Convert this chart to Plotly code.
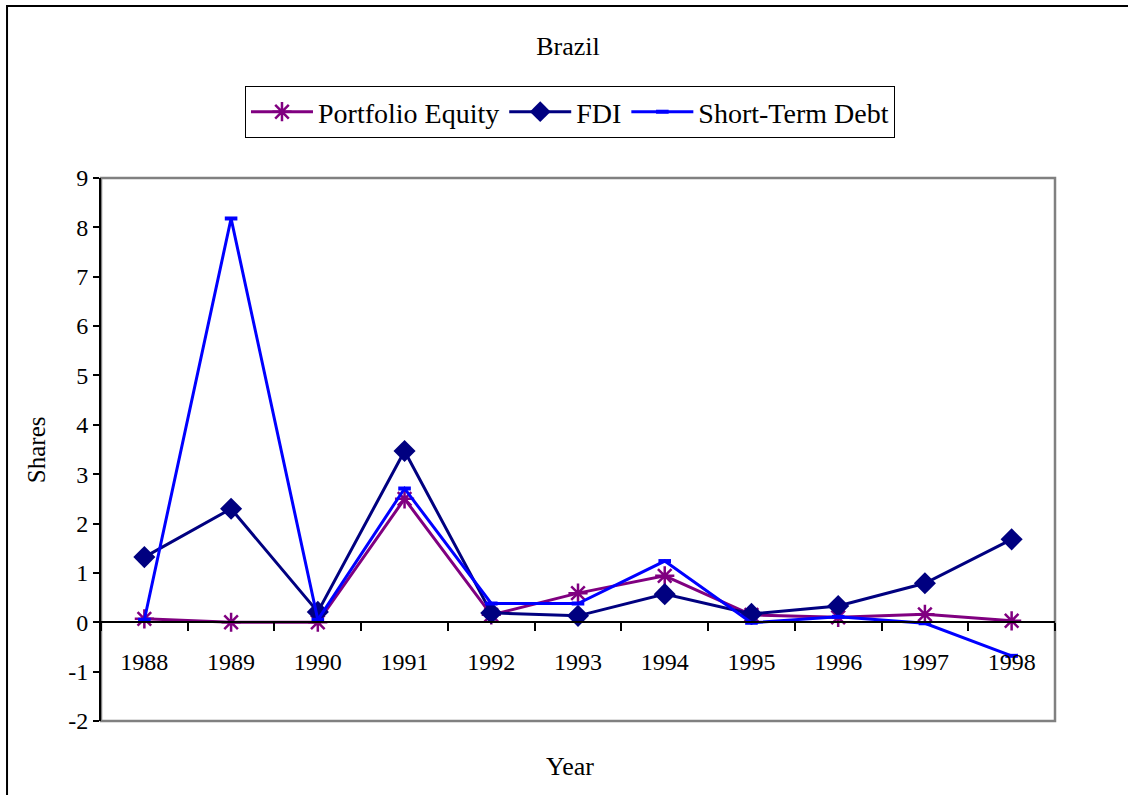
import plotly.graph_objects as go

years = ["1988", "1989", "1990", "1991", "1992", "1993", "1994", "1995", "1996", "1997", "1998"]
portfolio_equity = [0.07, 0.0, 0.0, 2.50, 0.15, 0.59, 0.94, 0.15, 0.10, 0.16, 0.03]
fdi = [1.32, 2.30, 0.21, 3.47, 0.19, 0.13, 0.57, 0.17, 0.33, 0.79, 1.68]
short_term_debt = [0.05, 8.18, 0.05, 2.71, 0.38, 0.38, 1.24, -0.01, 0.11, -0.02, -0.68]
y_tick_values = [-2, -1, 0, 1, 2, 3, 4, 5, 6, 7, 8, 9]
y_tick_labels = ["-2", "-1", "0", "1", "2", "3", "4", "5", "6", "7", "8", "9"]

FONT = "Liberation Serif, Times New Roman, serif"

fig = go.Figure()
fig.add_trace(go.Scatter(
    x=years, y=portfolio_equity, name="Portfolio Equity", mode="lines+markers",
    line=dict(color="#800080", width=3),
    marker=dict(symbol="asterisk-open", size=16, color="#800080", line=dict(color="#800080", width=2.5)),
))
fig.add_trace(go.Scatter(
    x=years, y=fdi, name="FDI", mode="lines+markers",
    line=dict(color="#000080", width=3),
    marker=dict(symbol="diamond", size=17, color="#000080"),
))
fig.add_trace(go.Scatter(
    x=years, y=short_term_debt, name="Short-Term Debt", mode="lines+markers",
    line=dict(color="#0000FF", width=3),
    marker=dict(symbol="line-ew-open", size=9, color="#0000FF", line=dict(color="#0000FF", width=4)),
))

fig.update_layout(
    width=1128, height=795,
    margin=dict(l=101, r=73, t=178, b=74),
    paper_bgcolor="white", plot_bgcolor="white",
    font=dict(family=FONT, size=24, color="black"),
    title=dict(text="Brazil", x=0.4895, xref="paper", xanchor="center",
               y=1 - 46 / 795, yref="container", yanchor="middle",
               font=dict(family=FONT, size=26, color="black")),
    legend=dict(orientation="h", x=0.4916, xanchor="center", y=1.1694, yanchor="top",
                bordercolor="black", borderwidth=1, bgcolor="white",
                font=dict(family=FONT, size=28), itemsizing="trace",
                itemwidth=62, tracegroupgap=0),
    showlegend=True,
)

fig.update_yaxes(
    range=[-2, 9], tickvals=y_tick_values, ticktext=y_tick_labels,
    showgrid=False, zeroline=False,
    showline=True, linecolor="black", linewidth=2,
    ticks="outside", ticklen=6, tickcolor="black", tickwidth=1.5,
    tickfont=dict(family=FONT, size=24),
)
fig.update_xaxes(
    type="category", anchor="free", position=2 / 11,
    range=[-0.5, len(years) - 0.5],
    showgrid=False, zeroline=False,
    showline=True, linecolor="black", linewidth=1.5,
    ticks="outside", ticklen=8, tickcolor="black", tickwidth=1.5,
    tickson="boundaries", ticklabelstandoff=18,
    tickfont=dict(family=FONT, size=24),
)

# plot area border (gray) and outer chart border
fig.add_shape(type="rect", xref="paper", yref="paper", x0=0, x1=1, y0=0, y1=1,
              line=dict(color="#808080", width=2.5), layer="below")
fig.add_shape(type="rect", xref="paper", yref="paper", x0=-0.0985, x1=1.1, y0=-0.2, y1=1.3168,
              line=dict(color="black", width=2), layer="below")

fig.add_annotation(text="Shares", xref="paper", yref="paper", x=-0.068, y=0.499,
                   xanchor="center", yanchor="middle",
                   textangle=-90, showarrow=False, font=dict(family=FONT, size=25))
fig.add_annotation(text="Year", xref="paper", yref="paper", x=0.4916, y=-0.0829,
                   xanchor="center", yanchor="middle",
                   showarrow=False, font=dict(family=FONT, size=26))

fig.write_html("out.html", config={"displayModeBar": False},
               post_script="document.body.style.margin='0';")
